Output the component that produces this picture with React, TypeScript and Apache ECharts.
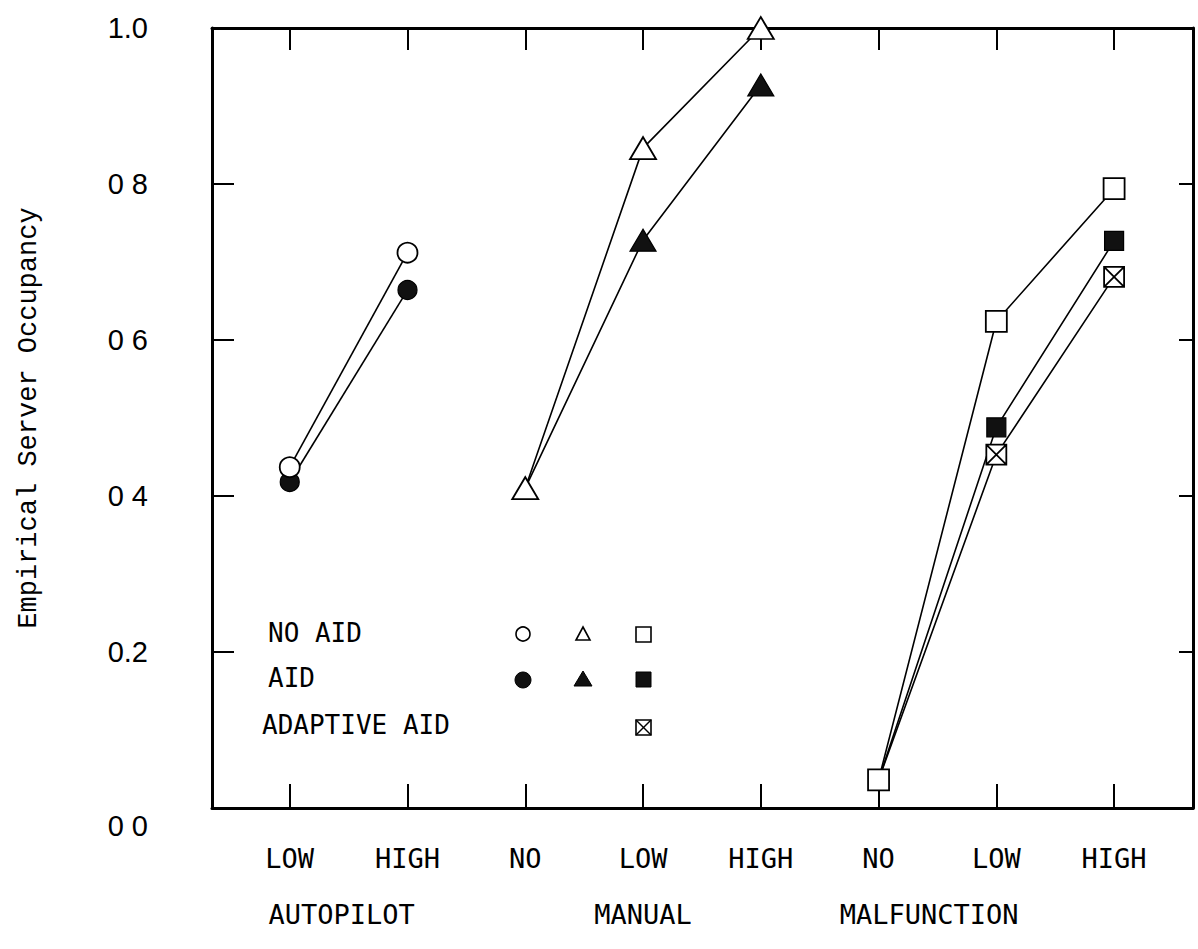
import React, { useEffect, useRef } from "react";
import * as echarts from "echarts";

// ---- data ----
const categoryPositions = [0, 1, 2, 3, 4, 5, 6, 7];
const categoryLabels = ["LOW", "HIGH", "NO", "LOW", "HIGH", "NO", "LOW", "HIGH"];
const groupLabels = ["AUTOPILOT", "MANUAL", "MALFUNCTION"];
const groupPositions = [0.44, 3.0, 5.43];
const yTickLabels = ["0 0", "0.2", "0 4", "0 6", "0 8", "1.0"];

const autopilotNoAid = [[0, 0.437], [1, 0.712]];
const autopilotAid = [[0, 0.418], [1, 0.664]];
const manualNoAid = [[2, 0.41], [3, 0.846], [4, 1.0]];
const manualAid = [[2, 0.41], [3, 0.728], [4, 0.927]];
const malfNoAid = [[5, 0.036], [6, 0.624], [7, 0.794]];
const malfAid = [[5, 0.036], [6, 0.488], [7, 0.727]];
const malfAdaptive = [[5, 0.036], [6, 0.453], [7, 0.681]];

const legendRows = ["NO AID", "AID", "ADAPTIVE AID"];

const boxX = "path://M0,0 L10,0 L10,10 L0,10 Z M0,0 L10,10 M10,0 L0,10";

const LABEL_FONT = "'DejaVu Sans Mono', monospace";
const NUM_FONT = "'Liberation Sans Narrow', 'Liberation Sans', sans-serif";

export default function App() {
  const ref = useRef<HTMLDivElement>(null);
  useEffect(() => {
    if (!ref.current) return;
    const chart = echarts.init(ref.current, undefined, { renderer: "svg" });

    const lineStyle = { color: "#000", width: 1.6 };
    const hollow = { color: "#fff", borderColor: "#000", borderWidth: 1.8 };
    const filled = { color: "#111", borderColor: "#000", borderWidth: 1.2 };
    const hideFirst = (d: number[][]) =>
      d.map((p, i) => (i === 0 ? { value: p, symbol: "none" } : { value: p }));

    const mk = (name: string, data: any[], symbol: string, size: any, item: any, z: number) => ({
      name,
      type: "line",
      data,
      symbol,
      symbolSize: size,
      itemStyle: item,
      lineStyle,
      clip: false,
      z,
      emphasis: { disabled: true },
    });

    const axisLine = { show: true, onZero: false, lineStyle: { color: "#000", width: 3 } };

    const option: any = {
      animation: false,
      backgroundColor: "#fff",
      grid: { left: 212, right: 5, top: 28, bottom: 141, containLabel: false },
      xAxis: [
        {
          type: "value",
          min: -0.66,
          max: 7.67,
          position: "bottom",
          axisLine,
          splitLine: { show: false },
          axisTick: {
            show: true,
            inside: true,
            length: 24,
            lineStyle: { color: "#000", width: 2 },
            customValues: categoryPositions,
          },
          axisLabel: {
            show: true,
            customValues: categoryPositions,
            margin: 37,
            fontFamily: LABEL_FONT,
            fontSize: 27,
            color: "#000",
            formatter: (v: number) => categoryLabels[Math.round(v)] ?? "",
          },
        },
        {
          type: "value",
          min: -0.66,
          max: 7.67,
          position: "top",
          axisLine,
          splitLine: { show: false },
          axisTick: {
            show: true,
            inside: true,
            length: 22,
            lineStyle: { color: "#000", width: 2 },
            customValues: categoryPositions,
          },
          axisLabel: { show: false },
        },
        {
          type: "value",
          min: -0.66,
          max: 7.67,
          position: "bottom",
          axisLine: { show: false, onZero: false },
          splitLine: { show: false },
          axisTick: { show: false },
          axisLabel: {
            show: true,
            customValues: groupPositions,
            margin: 93,
            fontFamily: LABEL_FONT,
            fontSize: 27,
            color: "#000",
            formatter: (v: number) => {
              const i = groupPositions.findIndex((g) => Math.abs(g - v) < 1e-6);
              return i >= 0 ? groupLabels[i] : "";
            },
          },
        },
      ],
      yAxis: [
        {
          type: "value",
          min: 0,
          max: 1,
          interval: 0.2,
          position: "left",
          axisLine,
          splitLine: { show: false },
          axisTick: { show: true, inside: true, length: 22, lineStyle: { color: "#000", width: 2 } },
          axisLabel: {
            margin: 64,
            fontFamily: NUM_FONT,
            fontSize: 29,
            color: "#000",
            formatter: (v: number) => {
              const i = Math.round(v / 0.2);
              const t = yTickLabels[i] ?? "";
              return i === 0 ? `{low|${t}}` : t;
            },
            rich: {
              low: { fontFamily: NUM_FONT, fontSize: 29, color: "#000", padding: [36, 0, 0, 0] },
            },
          },
          name: "Empirical Server Occupancy",
          nameLocation: "middle",
          nameRotate: 90,
          nameGap: 170,
          nameTextStyle: { fontFamily: "'Liberation Mono', monospace", fontSize: 27, color: "#000" },
        },
        {
          type: "value",
          min: 0,
          max: 1,
          interval: 0.2,
          position: "right",
          axisLine,
          splitLine: { show: false },
          axisTick: { show: true, inside: true, length: 14, lineStyle: { color: "#000", width: 2 } },
          axisLabel: { show: false },
        },
      ],
      series: [
        mk("AID (autopilot)", autopilotAid.map((p) => ({ value: p })), "circle", 19, filled, 2),
        mk("NO AID (autopilot)", autopilotNoAid.map((p) => ({ value: p })), "circle", 20, hollow, 3),
        mk("AID (manual)", hideFirst(manualAid), "triangle", [26, 22], filled, 2),
        mk("NO AID (manual)", manualNoAid.map((p) => ({ value: p })), "triangle", [26, 22], hollow, 3),
        mk("ADAPTIVE AID (malfunction)", hideFirst(malfAdaptive), boxX, 20, hollow, 2),
        mk("AID (malfunction)", hideFirst(malfAid), "rect", 19, filled, 2),
        mk("NO AID (malfunction)", malfNoAid.map((p) => ({ value: p })), "rect", 21, hollow, 3),
      ],
      graphic: [
        {
          type: "text",
          left: 268,
          top: 620,
          style: { text: legendRows[0], font: `26px ${LABEL_FONT}`, fill: "#000" },
        },
        {
          type: "text",
          left: 268,
          top: 665,
          style: { text: legendRows[1], font: `26px ${LABEL_FONT}`, fill: "#000" },
        },
        {
          type: "text",
          left: 262,
          top: 712,
          style: { text: legendRows[2], font: `26px ${LABEL_FONT}`, fill: "#000" },
        },
        // row 1: hollow markers
        { type: "circle", shape: { cx: 523, cy: 634, r: 7 }, style: { fill: "#fff", stroke: "#000", lineWidth: 1.6 } },
        {
          type: "polygon",
          shape: { points: [[583, 627], [590, 640], [576, 640]] },
          style: { fill: "#fff", stroke: "#000", lineWidth: 1.6 },
        },
        { type: "rect", shape: { x: 636, y: 627, width: 15, height: 15 }, style: { fill: "#fff", stroke: "#000", lineWidth: 1.6 } },
        // row 2: filled markers
        { type: "circle", shape: { cx: 523, cy: 680, r: 8 }, style: { fill: "#111", stroke: "#000", lineWidth: 1 } },
        {
          type: "polygon",
          shape: { points: [[583, 671], [592, 686], [574, 686]] },
          style: { fill: "#111", stroke: "#000", lineWidth: 1 },
        },
        { type: "rect", shape: { x: 636, y: 672, width: 15, height: 15 }, style: { fill: "#111", stroke: "#000", lineWidth: 1 } },
        // row 3: boxed X
        { type: "rect", shape: { x: 636, y: 720, width: 15, height: 15 }, style: { fill: "#fff", stroke: "#000", lineWidth: 1.6 } },
        { type: "line", shape: { x1: 636, y1: 720, x2: 651, y2: 735 }, style: { stroke: "#000", lineWidth: 1.4 } },
        { type: "line", shape: { x1: 651, y1: 720, x2: 636, y2: 735 }, style: { stroke: "#000", lineWidth: 1.4 } },
      ],
    };

    chart.setOption(option);
    return () => chart.dispose();
  }, []);

  return <div ref={ref} style={{ width: 1198, height: 949, position: "absolute", left: 0, top: 0 }} />;
}
